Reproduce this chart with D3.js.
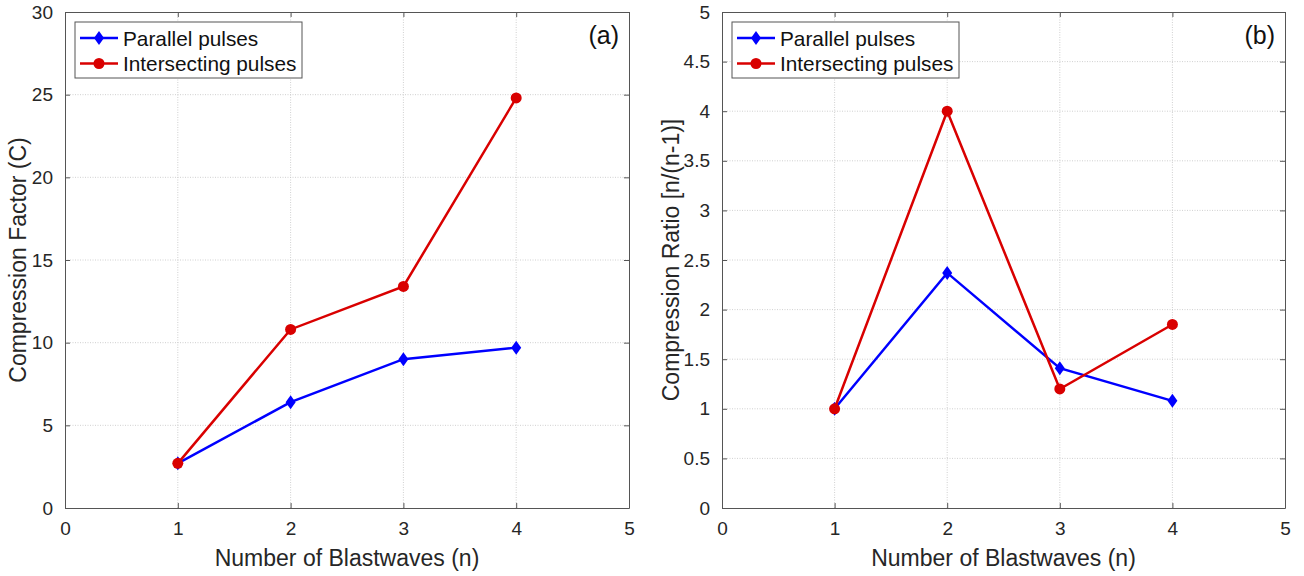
<!DOCTYPE html>
<html>
<head>
<meta charset="utf-8">
<script src="https://cdn.jsdelivr.net/npm/d3@7"></script>
<style>
  html, body { margin: 0; padding: 0; background: #fff; }
  svg { display: block; font-family: Arial, "Liberation Sans", Helvetica, sans-serif; }
</style>
</head>
<body>
<svg id="chart" width="1304" height="576"></svg>
<script>
// Number of blastwaves on the x axis
const blastwaves = [1, 2, 3, 4];

// Panel (a): compression factor C
const factorParallel = [2.7, 6.4, 9.0, 9.7];
const factorIntersecting = [2.7, 10.8, 13.4, 24.8];

// Panel (b): compression ratio n/(n-1)
const ratioParallel = [1.0, 2.37, 1.41, 1.08];
const ratioIntersecting = [1.0, 4.0, 1.2, 1.85];

// Tick values
const xTicks = [0, 1, 2, 3, 4, 5];
const factorTicks = [0, 5, 10, 15, 20, 25, 30];
const ratioTicks = [0, 0.5, 1, 1.5, 2, 2.5, 3, 3.5, 4, 4.5, 5];

const seriesNames = ["Parallel pulses", "Intersecting pulses"];
const BLUE = "#0000ff";
const RED = "#d90000";
const AXIS = "#262626";

const svg = d3.select("#chart");

function panel(opts) {
  const { left, right, top, bottom, yMax, yTicks, parallel, intersecting,
          yLabel, yLabelX, tag, legendX, legendW } = opts;
  const x = d3.scaleLinear().domain([0, 5]).range([left, right]);
  const y = d3.scaleLinear().domain([0, yMax]).range([bottom, top]);
  const g = svg.append("g");

  // grid
  g.append("g").selectAll("line").data(xTicks.slice(1, -1)).join("line")
    .attr("x1", d => x(d)).attr("x2", d => x(d))
    .attr("y1", top).attr("y2", bottom)
    .attr("stroke", "#c4c4c4").attr("stroke-width", 0.8)
    .attr("stroke-dasharray", "1,1.5");
  g.append("g").selectAll("line").data(yTicks.slice(1, -1)).join("line")
    .attr("y1", d => y(d)).attr("y2", d => y(d))
    .attr("x1", left).attr("x2", right)
    .attr("stroke", "#c4c4c4").attr("stroke-width", 0.8)
    .attr("stroke-dasharray", "1,1.5");

  // axes (ticks point inward, box on all four sides)
  const fmt = d3.format("~g");
  const ax = g.append("g").attr("transform", `translate(0,${bottom})`)
    .call(d3.axisBottom(x).tickValues(xTicks).tickSizeInner(-5).tickSizeOuter(0).tickPadding(14).tickFormat(fmt));
  const axTop = g.append("g").attr("transform", `translate(0,${top})`)
    .call(d3.axisTop(x).tickValues(xTicks).tickSizeInner(-5).tickSizeOuter(0).tickFormat(""));
  const ay = g.append("g").attr("transform", `translate(${left},0)`)
    .call(d3.axisLeft(y).tickValues(yTicks).tickSizeInner(-5).tickSizeOuter(0).tickPadding(12).tickFormat(fmt));
  const ayR = g.append("g").attr("transform", `translate(${right},0)`)
    .call(d3.axisRight(y).tickValues(yTicks).tickSizeInner(-5).tickSizeOuter(0).tickFormat(""));
  [ax, axTop, ay, ayR].forEach(a => {
    a.select(".domain").attr("stroke", "#555").attr("stroke-width", 1);
    a.selectAll(".tick line").attr("stroke", "#555");
    a.selectAll("text").attr("fill", AXIS).style("font-size", "19px")
      .style("font-family", "Arial, 'Liberation Sans', sans-serif");
  });

  // axis labels
  g.append("text").attr("x", (left + right) / 2).attr("y", 566)
    .attr("text-anchor", "middle").attr("fill", AXIS).style("font-size", "23px")
    .text("Number of Blastwaves (n)");
  g.append("text")
    .attr("transform", `translate(${yLabelX},${(top + bottom) / 2}) rotate(-90)`)
    .attr("text-anchor", "middle").attr("fill", AXIS).style("font-size", "23px")
    .text(yLabel);

  // panel tag
  g.append("text").attr("x", right - 10).attr("y", 44)
    .attr("text-anchor", "end").attr("fill", "#111").style("font-size", "25px")
    .text(tag);

  // series
  const line = d3.line().x((d, i) => x(blastwaves[i])).y(d => y(d));
  const diamond = "M0,-7L5,0L0,7L-5,0Z";
  g.append("path").datum(parallel).attr("d", line)
    .attr("fill", "none").attr("stroke", BLUE).attr("stroke-width", 2.5);
  g.append("g").selectAll("path").data(parallel).join("path")
    .attr("transform", (d, i) => `translate(${x(blastwaves[i])},${y(d)})`)
    .attr("d", diamond).attr("fill", BLUE);
  g.append("path").datum(intersecting).attr("d", line)
    .attr("fill", "none").attr("stroke", RED).attr("stroke-width", 2.5);
  g.append("g").selectAll("circle").data(intersecting).join("circle")
    .attr("cx", (d, i) => x(blastwaves[i])).attr("cy", d => y(d))
    .attr("r", 5.5).attr("fill", RED);

  // legend
  const lg = g.append("g");
  lg.append("rect").attr("x", legendX).attr("y", 22).attr("width", legendW).attr("height", 56)
    .attr("fill", "#fff").attr("stroke", "#555").attr("stroke-width", 1);
  const rows = [{ c: BLUE, m: "d" }, { c: RED, m: "o" }];
  rows.forEach((r, i) => {
    const cy = 38 + i * 25.5;
    const x0 = legendX + 5, x1 = legendX + 43;
    lg.append("line").attr("x1", x0).attr("x2", x1).attr("y1", cy).attr("y2", cy)
      .attr("stroke", r.c).attr("stroke-width", 2.5);
    if (r.m === "d") {
      lg.append("path").attr("transform", `translate(${(x0 + x1) / 2},${cy})`)
        .attr("d", diamond).attr("fill", r.c);
    } else {
      lg.append("circle").attr("cx", (x0 + x1) / 2).attr("cy", cy).attr("r", 5.5).attr("fill", r.c);
    }
    lg.append("text").attr("x", legendX + 48).attr("y", cy + 7.5)
      .attr("fill", "#111").style("font-size", "20.8px").text(seriesNames[i]);
  });
}

panel({
  left: 65, right: 629, top: 12, bottom: 508, yMax: 30, yTicks: factorTicks,
  parallel: factorParallel, intersecting: factorIntersecting,
  yLabel: "Compression Factor (C)", yLabelX: 26, tag: "(a)",
  legendX: 75, legendW: 227
});
panel({
  left: 722, right: 1285, top: 12, bottom: 508, yMax: 5, yTicks: ratioTicks,
  parallel: ratioParallel, intersecting: ratioIntersecting,
  yLabel: "Compression Ratio [n/(n-1)]", yLabelX: 679, tag: "(b)",
  legendX: 732, legendW: 227
});
</script>
</body>
</html>
